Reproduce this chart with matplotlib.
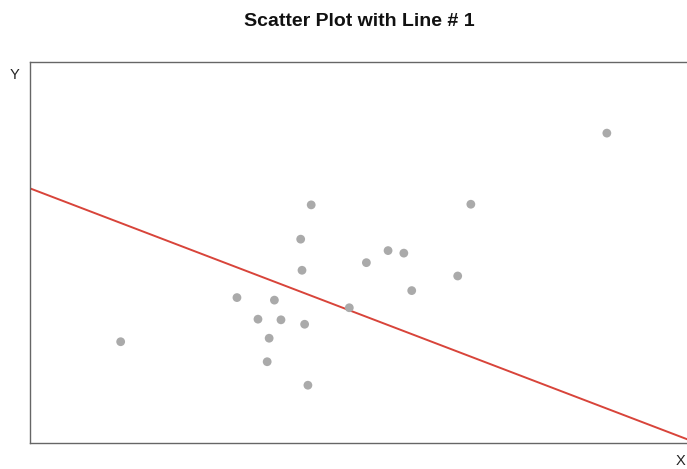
import matplotlib
matplotlib.use('Agg')
import matplotlib.pyplot as plt

# point data
x_vals = [13.8, 31.5, 37.2, 34.7, 38.2, 41.8, 36.4, 36.1, 42.3, 42.8,
          41.2, 41.4, 67.1, 54.5, 56.9, 51.2, 65.1, 58.1, 48.6, 87.8]
y_vals = [15.95, 22.9, 22.5, 19.5, 19.4, 18.7, 16.5, 12.8, 9.1, 37.5,
          32.1, 27.2, 37.6, 30.3, 29.9, 28.4, 26.3, 24.0, 21.3, 48.8]

# the fitted line
intercept = 40.1
slope = -0.395

plt.rcParams['font.family'] = ['Liberation Sans', 'DejaVu Sans']

fig = plt.figure(figsize=(6.87, 4.69), dpi=100)
ax = fig.add_axes([30 / 687, 26 / 469, 1 - 30 / 687, 381 / 469])

ax.scatter(x_vals, y_vals, s=40, color='#aaaaaa', edgecolors='none', zorder=3)
ax.axline((0, intercept), slope=slope, color='#d8443a', linewidth=1.4, zorder=2)

ax.set_xlim(0, 100)
ax.set_ylim(0, 60)
ax.set_xticks([])
ax.set_yticks([])
ax.spines['right'].set_visible(False)
for s in ['left', 'top', 'bottom']:
    ax.spines[s].set_color('#666666')
    ax.spines[s].set_linewidth(1.0)

fig.text(359 / 687, 1 - 21 / 469, 'Scatter Plot with Line # 1',
         ha='center', va='center', fontsize=14, fontweight='bold', color='#111111')
fig.text(14 / 687, 1 - 75 / 469, 'Y', ha='center', va='center', fontsize=10.5, color='#222222')
fig.text(685 / 687, 1 - 461 / 469, 'X', ha='right', va='center', fontsize=10.5, color='#222222')

fig.savefig('out.png', dpi=100)
